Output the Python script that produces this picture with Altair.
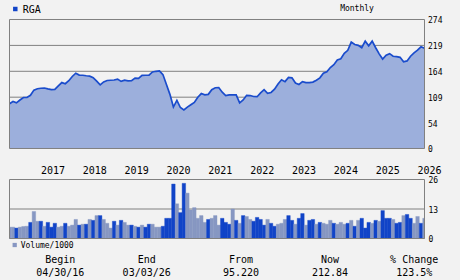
import altair as alt
import pandas as pd

# ---------------- data ----------------
ticker = "RGA"
period_label = "Monthly"
volume_label = "Volume/1000"

# month-end closes, Apr 2016 .. Mar 2026 (index 0..119)
price = [
    95.2, 100, 97, 103, 108.3, 108.3, 113, 124, 127, 128,
    128.5, 126.5, 125, 125.5, 133, 140, 137.5, 144, 153, 160,
    156, 155.6, 154.5, 153.6, 150.5, 143, 135, 141.5, 144.5, 145,
    145.5, 147.5, 142.5, 145, 143.5, 144, 149.5, 149, 155.5, 155.6,
    156, 162.6, 164, 165, 157, 136, 115, 88, 102, 87,
    82, 88, 93, 98, 109, 116.7, 114, 115, 125, 129,
    129.5, 119.5, 112.5, 114, 114, 114, 97, 103, 113, 112.5,
    110.4, 110, 118, 125, 117, 119, 126, 137, 146, 142,
    151, 150, 139, 136, 142, 140, 140, 141, 145, 150,
    160, 163, 172, 178, 188, 190.5, 202, 208.5, 226, 221,
    219, 214, 228, 218, 228, 214, 201, 190, 198, 201.5,
    196, 195, 193.6, 184, 186, 196, 203, 209, 216, 212.84,
]

# monthly volume / 1000
volume = [
    5.0, 5.0, 4.6, 5.0, 5.3, 5.4, 7.1, 11.9, 7.6, 7.6,
    5.4, 7.1, 5.0, 6.7, 5.0, 5.4, 6.7, 5.4, 5.9, 8.4,
    5.9, 6.3, 6.3, 8.4, 8.0, 10.1, 10.1, 8.4, 6.7, 4.6,
    7.6, 5.9, 8.0, 7.1, 5.9, 5.9, 5.4, 5.0, 5.9, 5.0,
    6.3, 6.3, 5.0, 5.0, 5.4, 8.9, 8.9, 24.0, 15.3, 11.4,
    24.3, 20.0, 12.6, 13.6, 8.9, 10.1, 7.1, 8.4, 8.9, 10.1,
    5.9, 8.9, 7.1, 6.3, 13.0, 8.0, 6.7, 10.1, 9.7, 8.4,
    7.6, 9.3, 8.4, 5.9, 8.4, 6.7, 5.4, 6.3, 6.7, 8.4,
    10.1, 8.0, 6.3, 8.9, 11.0, 5.9, 8.0, 8.4, 6.3, 7.1,
    6.7, 6.3, 8.0, 6.7, 6.3, 7.1, 6.3, 6.7, 8.0, 5.4,
    8.0, 8.9, 4.6, 7.1, 6.7, 8.0, 7.6, 12.3, 8.9, 8.9,
    8.4, 6.7, 7.1, 10.1, 10.6, 8.9, 6.7, 9.7, 6.7, 8.9,
]

# bar shade: D = dark, L = light
tone = [
    "L", "L", "D", "L", "L", "L", "D", "L", "L", "D",
    "L", "D", "D", "D", "L", "L", "D", "L", "L", "L",
    "D", "L", "D", "L", "D", "L", "D", "L", "L", "L",
    "D", "L", "D", "L", "L", "D", "L", "D", "L", "D",
    "D", "L", "L", "L", "D", "D", "D", "D", "L", "D",
    "D", "L", "L", "L", "L", "L", "L", "D", "L", "L",
    "L", "D", "D", "D", "L", "D", "L", "D", "L", "L",
    "D", "D", "D", "D", "L", "D", "D", "L", "L", "L",
    "D", "D", "L", "D", "D", "L", "D", "D", "L", "D",
    "L", "L", "L", "D", "L", "L", "L", "D", "L", "D",
    "L", "D", "D", "D", "L", "D", "L", "D", "D", "D",
    "L", "D", "D", "L", "D", "D", "L", "L", "D", "L",
]

year_labels = ["2017", "2018", "2019", "2020", "2021",
               "2022", "2023", "2024", "2025", "2026"]
year_first_month = [9, 21, 33, 45, 57, 69, 81, 93, 105, 117]

price_ticks = [0, 54, 109, 164, 219, 274]
volume_ticks = [0, 13, 26]

table_headers = ["Begin", "End", "From", "Now", "% Change"]
table_values = ["04/30/16", "03/03/26", "95.220", "212.84", "123.5%"]

# ---------------- style ----------------
BG = "#f2f2f2"
GRID = "#808080"
DARK = "#1144c8"
LIGHT = "#8797c2"
AREA = "#9cafdc"
LINE = "#1a4ccc"
MONO = "DejaVu Sans Mono"

df = pd.DataFrame({"m": list(range(len(price))), "price": price,
                   "volume": volume, "tone": tone})

xs = alt.Scale(domain=[-0.1434, 119.1434], nice=False, zero=False)
PY = alt.Scale(domain=[-192.23, 275.06], nice=False, zero=False)
VY = alt.Scale(domain=[-0.2203, 96.73], nice=False, zero=False)

X0 = alt.XDatum(0, type="quantitative", scale=xs, axis=None)
X1 = alt.X2Datum(len(price) - 1)


def text_layer(texts, x, y, size, align="left", color="black"):
    return alt.Chart(pd.DataFrame({"t": texts})).mark_text(
        align=align, baseline="alphabetic", font=MONO, fontSize=size, color=color
    ).encode(x=alt.value(x), y=alt.value(y), text="t:N")


# ---------- price panel ----------
p_grid = alt.Chart(pd.DataFrame({"v": price_ticks[1:-1]})).mark_rule(
    color=GRID, strokeWidth=1
).encode(x=X0, x2=X1, y=alt.Y("v:Q", scale=PY, axis=None))

p_area = alt.Chart(df).mark_area(color=AREA, opacity=1).encode(
    x=alt.X("m:Q", scale=xs, axis=None),
    y=alt.Y("price:Q", scale=PY, axis=None),
    y2=alt.Y2Datum(0),
)
p_line = alt.Chart(df).mark_line(color=LINE, strokeWidth=1.7).encode(
    x=alt.X("m:Q", scale=xs, axis=None),
    y=alt.Y("price:Q", scale=PY, axis=None),
)
p_frame = alt.Chart(pd.DataFrame({"a": [0]})).mark_rect(
    fillOpacity=0, stroke=GRID, strokeWidth=1
).encode(x=X0, x2=X1,
         y=alt.YDatum(274, type="quantitative", scale=PY, axis=None),
         y2=alt.Y2Datum(0))
p_labels = alt.Chart(pd.DataFrame({"v": price_ticks})).mark_text(
    align="left", baseline="middle", font=MONO, fontSize=8, dy=1.5, color="black"
).encode(x=alt.value(419), y=alt.Y("v:Q", scale=PY, axis=None), text="v:N")

years = alt.Chart(pd.DataFrame({"m": year_first_month, "t": year_labels})).mark_text(
    align="left", baseline="alphabetic", font=MONO, fontSize=10, color="black"
).encode(x=alt.X("m:Q", scale=xs, axis=None), y=alt.value(155), text="t:N")

rga_mark = alt.Chart(pd.DataFrame({"a": [0]})).mark_square(
    size=20, color=DARK, opacity=1
).encode(x=alt.value(6.3), y=alt.value(-10))
rga_text = text_layer([ticker], 13.7, -6.5, 10)
monthly = text_layer([period_label], 348, -8, 8, align="center")

price_group = alt.layer(p_grid, p_area, p_line, p_frame, p_labels,
                        years, rga_mark, rga_text, monthly)

# ---------- volume panel ----------
v_grid = alt.Chart(pd.DataFrame({"v": [13]})).mark_rule(
    color=GRID, strokeWidth=1
).encode(x=X0, x2=X1, y=alt.Y("v:Q", scale=VY, axis=None))

tone_scale = alt.Scale(domain=["D", "L"], range=[DARK, LIGHT])
v_bars = alt.Chart(df).transform_calculate(
    x0="datum.m - 0.5", x1="datum.m + 0.5"
).mark_bar(clip=True, strokeWidth=0.4).encode(
    x=alt.X("x0:Q", scale=xs, axis=None),
    x2="x1:Q",
    y=alt.Y("volume:Q", scale=VY, axis=None),
    y2=alt.Y2Datum(0),
    color=alt.Color("tone:N", scale=tone_scale, legend=None),
    stroke=alt.Stroke("tone:N", scale=tone_scale, legend=None),
)
v_frame = alt.Chart(pd.DataFrame({"a": [0]})).mark_rect(
    fillOpacity=0, stroke=GRID, strokeWidth=1
).encode(x=X0, x2=X1,
         y=alt.YDatum(26, type="quantitative", scale=VY, axis=None),
         y2=alt.Y2Datum(0))
v_labels = alt.Chart(pd.DataFrame({"v": volume_ticks})).mark_text(
    align="left", baseline="middle", font=MONO, fontSize=8, dy=1.5, color="black"
).encode(x=alt.value(419.5), y=alt.Y("v:Q", scale=VY, axis=None), text="v:N")

vol_mark = alt.Chart(pd.DataFrame({"a": [0]})).mark_square(
    size=18, color=LIGHT, opacity=1
).encode(x=alt.value(5.7), y=alt.value(226))
vol_text = text_layer([volume_label], 11.7, 228.5, 8)

table_layers = []
for hdr, val, cx in zip(table_headers, table_values, [51.3, 137.7, 232, 321, 405.2]):
    table_layers.append(text_layer([hdr], cx, 243.5, 10, align="center"))
    table_layers.append(text_layer([val], cx, 257, 10, align="center"))

vol_group = alt.layer(v_grid, v_bars, v_frame, v_labels, vol_mark, vol_text,
                      *table_layers)

chart = alt.layer(price_group, vol_group).resolve_scale(
    y="independent"
).properties(
    width=416, height=220,
    padding={"left": 9, "top": 19, "right": 35, "bottom": 41},
    autosize="none",
).configure(background=BG).configure_view(stroke=None)

chart.save("out.html", embed_options={"renderer": "svg", "actions": False})
